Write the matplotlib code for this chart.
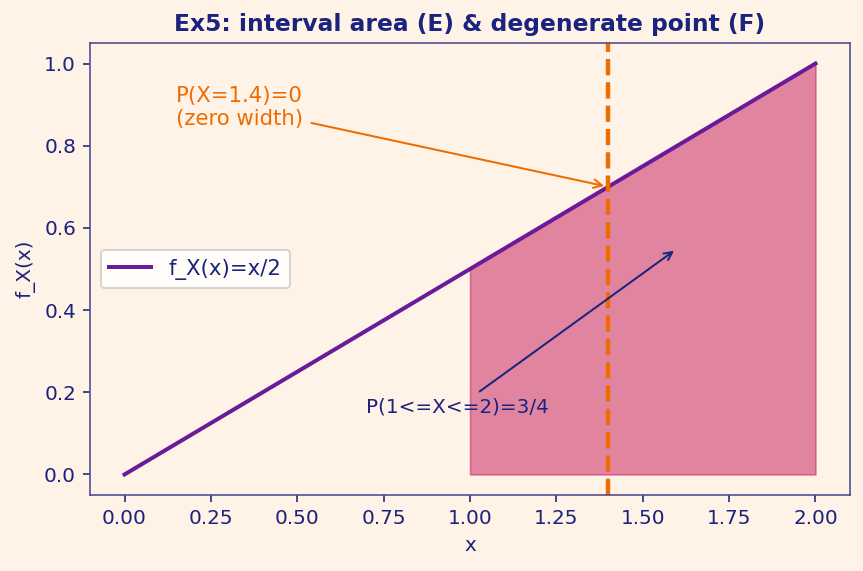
import numpy as np
import matplotlib
matplotlib.use("Agg")
import matplotlib.pyplot as plt

x_line = [0.0, 2.0]
y_line = [0.0, 1.0]
x_fill = [1.0, 2.0]
y_fill = [0.5, 1.0]
x_point = 1.4
y_point = 0.7
line_label = "f_X(x)=x/2"
title = "Ex5: interval area (E) & degenerate point (F)"

bg = "#fff2e6"
navy = "#1a237e"
purple = "#6a1b9a"
orange = "#ef6c00"
pink = "#c2185b"

plt.rcParams['font.family'] = ['DejaVu Sans']
W, H = 863, 571
fig = plt.figure(figsize=(W / 144, H / 144), dpi=144)
fig.patch.set_facecolor(bg)
ax = fig.add_axes([90 / W, (H - 495) / H, (850 - 90) / W, (495 - 43) / H])
ax.set_facecolor(bg)

ax.plot(x_line, y_line, color=purple, lw=2.0, label=line_label)
ax.fill_between(x_fill, y_fill, 0, color=pink, alpha=0.5, edgecolor=pink, lw=0.8)
ax.axvline(x_point, color=orange, ls="--", lw=2.2)

ax.annotate("P(X=1.4)=0\n(zero width)", xy=(x_point, y_point), xytext=(0.15, 0.85),
            color=orange, fontsize=10.6,
            arrowprops=dict(arrowstyle="->", color=orange, lw=1))
ax.annotate("P(1<=X<=2)=3/4", xy=(1.6, 0.55), xytext=(0.7, 0.15),
            color=navy, fontsize=10,
            arrowprops=dict(arrowstyle="->", color=navy, lw=1))

ax.set_title(title, color=navy, fontweight="bold", fontsize=11.7)
ax.set_xlabel("x", color=navy)
ax.set_ylabel("f_X(x)", color=navy)
ax.tick_params(colors=navy, labelcolor=navy)
for s in ax.spines.values():
    s.set_color("#4a4a8f")
leg = ax.legend(loc="center left", labelcolor=navy, fontsize=10.6)
fig.savefig("out.png", facecolor=bg)
